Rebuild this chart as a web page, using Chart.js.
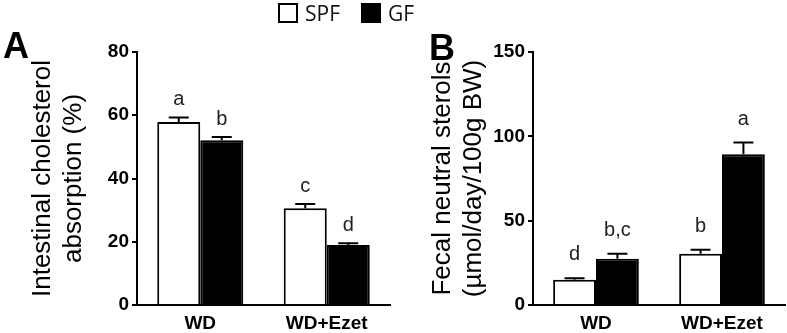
<!DOCTYPE html>
<html>
<head>
<meta charset="utf-8">
<script src="https://cdn.jsdelivr.net/npm/chart.js@4.4.1/dist/chart.umd.min.js"></script>
<style>
  body { margin: 0; background: #fff; }
  #wrap { position: relative; width: 787px; height: 333px; overflow: hidden; font-family: "Liberation Sans", Arial, sans-serif; }
  .panel { position: absolute; top: 0; height: 333px; }
  #panelA { left: 0; width: 395px; }
  #panelB { left: 400px; width: 387px; }
  .letter { position: absolute; font-weight: bold; font-size: 36px; line-height: 1; color: #000; }
  #legend { position: absolute; top: 3px; left: 278px; font-family: "Open Sans", sans-serif; font-size: 21px; line-height: 20px; color: #111; white-space: nowrap; }
  #legend span.box { display: inline-block; width: 16px; height: 16px; border: 2px solid #000; vertical-align: top; }
  #legend span.txt { display: inline-block; vertical-align: top; margin-left: 7px; margin-right: 21px; }
</style>
</head>
<body>
<div id="wrap">
  <div class="panel" id="panelA"><canvas id="chartA"></canvas></div>
  <div class="panel" id="panelB"><canvas id="chartB"></canvas></div>
  <div class="letter" style="left:3px; top:28px;">A</div>
  <div class="letter" style="left:429px; top:30px;">B</div>
  <div id="legend">
    <span class="box" style="background:#fff"></span><span class="txt">SPF</span><span class="box" style="background:#000"></span><span class="txt">GF</span>
  </div>
</div>
<script>
const groups = ['WD', 'WD+Ezet'];

// panel A: intestinal cholesterol absorption (%)
const absorptionSPF = [57.9, 30.6];
const absorptionSPFErr = [1.4, 1.3];
const absorptionGF = [52.1, 19.0];
const absorptionGFErr = [1.0, 0.5];
const absorptionSPFLetters = ['a', 'c'];
const absorptionGFLetters = ['b', 'd'];
const absorptionTicks = [0, 20, 40, 60, 80];

// panel B: fecal neutral sterols
const sterolsSPF = [14.9, 30.4];
const sterolsSPFErr = [1.0, 2.4];
const sterolsGF = [27.4, 89.4];
const sterolsGFErr = [3.0, 6.9];
const sterolsSPFLetters = ['d', 'b'];
const sterolsGFLetters = ['b,c', 'a'];
const sterolsTicks = [0, 50, 100, 150];

const FONT = '"Liberation Sans", Arial, sans-serif';

// draws the upward SEM bars with caps and the significance letters
const errorBars = {
    id: 'errorBars',
    afterDatasetsDraw(chart, args, opts) {
        const ctx = chart.ctx;
        const yScale = chart.scales.y;
        ctx.save();
        chart.data.datasets.forEach((ds, i) => {
            const meta = chart.getDatasetMeta(i);
            meta.data.forEach((bar, j) => {
                const top = yScale.getPixelForValue(ds.data[j] + ds.errors[j]);
                ctx.strokeStyle = '#000';
                ctx.lineWidth = 2;
                ctx.beginPath();
                ctx.moveTo(bar.x, bar.y);
                ctx.lineTo(bar.x, top);
                ctx.moveTo(bar.x - 10, top);
                ctx.lineTo(bar.x + 10, top);
                ctx.stroke();
                ctx.fillStyle = '#222';
                ctx.font = '20px ' + FONT;
                ctx.textAlign = 'center';
                ctx.textBaseline = 'alphabetic';
                ctx.fillText(ds.letters[j], bar.x, top - opts.gap);
            });
        });
        ctx.restore();
    }
};

function makeChart(id, spf, spfErr, spfLetters, gf, gfErr, gfLetters, tickValues, title, yWidth, padRight, gap) {
    return new Chart(document.getElementById(id), {
        type: 'bar',
        data: {
            labels: groups,
            datasets: [{
                label: 'SPF',
                data: spf,
                errors: spfErr,
                letters: spfLetters,
                backgroundColor: '#fff',
                borderColor: '#000',
                borderWidth: 2
            }, {
                label: 'GF',
                data: gf,
                errors: gfErr,
                letters: gfLetters,
                backgroundColor: '#000',
                borderColor: '#000',
                borderWidth: 2
            }]
        },
        options: {
            responsive: true,
            maintainAspectRatio: false,
            animation: false,
            categoryPercentage: 0.68,
            barPercentage: 1.0,
            layout: { padding: { top: 52, right: padRight, left: 0, bottom: 0 } },
            plugins: {
                legend: { display: false },
                tooltip: { enabled: false },
                errorBars: { gap: gap }
            },
            scales: {
                x: {
                    grid: { display: false, drawTicks: false },
                    border: { color: '#000', width: 2 },
                    ticks: { color: '#000', padding: 7, font: { family: FONT, size: 19, weight: 'bold' } },
                    afterFit: (s) => { s.height = 28; }
                },
                y: {
                    min: tickValues[0],
                    max: tickValues[tickValues.length - 1],
                    afterBuildTicks: (s) => { s.ticks = tickValues.map(v => ({ value: v })); },
                    grid: { drawOnChartArea: false, drawTicks: true, tickLength: 5, color: '#000', lineWidth: 2 },
                    border: { color: '#000', width: 2 },
                    ticks: { color: '#000', padding: 3, font: { family: FONT, size: 19, weight: 'bold' } },
                    title: {
                        display: true,
                        text: title,
                        color: '#000',
                        padding: { top: 27, bottom: 0 },
                        font: { family: FONT, size: 26, lineHeight: 1.2 }
                    },
                    afterFit: (s) => { s.width = yWidth; }
                }
            }
        },
        plugins: [errorBars]
    });
}

makeChart('chartA', absorptionSPF, absorptionSPFErr, absorptionSPFLetters,
    absorptionGF, absorptionGFErr, absorptionGFLetters, absorptionTicks,
    ['Intestinal cholesterol', 'absorption (%)'], 137, 5, 12);

makeChart('chartB', sterolsSPF, sterolsSPFErr, sterolsSPFLetters,
    sterolsGF, sterolsGFErr, sterolsGFLetters, sterolsTicks,
    ['Fecal neutral sterols', '(µmol/day/100g BW)'], 133, 2, 18);
</script>
</body>
</html>
